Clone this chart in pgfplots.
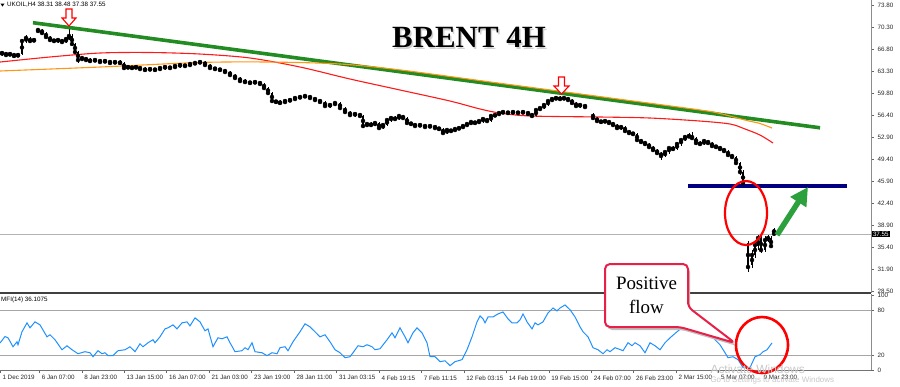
\documentclass[border=0pt]{standalone}
\usepackage{fontspec}
\setmainfont{Liberation Serif}
\setsansfont{Liberation Sans}
\usepackage{pgfplots}
\usepackage{pgfplotstable}
\pgfplotsset{compat=1.18}
\usetikzlibrary{arrows.meta}

\definecolor{trendgreen}{RGB}{34,139,34}
\definecolor{arrowgreen}{RGB}{44,160,60}
\definecolor{maRed}{RGB}{255,25,25}
\definecolor{maOrange}{RGB}{255,150,20}
\definecolor{mfiBlue}{RGB}{30,144,255}
\definecolor{levelNavy}{RGB}{0,0,128}
\definecolor{callRed}{RGB}{232,32,72}

\pgfplotstableread{
x o h l c
2 66.04 66.52 65.73 66.20
6 66.20 66.36 65.57 65.88
10 65.88 66.36 65.73 66.04
14 66.04 66.20 65.41 65.73
18 65.73 66.20 65.57 65.88
22 66.04 68.42 65.88 68.10
26 68.10 69.05 67.79 68.58
30 68.42 68.74 67.79 68.10
34 68.10 68.58 67.94 68.26
38 69.53 70.16 69.37 69.85
42 69.85 70.00 69.05 69.37
46 69.37 69.53 68.42 68.74
50 68.74 68.89 67.94 68.26
54 68.26 68.42 67.79 68.10
58 68.10 68.42 67.79 68.26
62 68.26 68.42 67.63 67.94
66 67.94 68.58 67.79 68.42
69 68.42 70.32 68.26 68.89
72 68.89 69.21 67.31 67.63
75 67.63 67.79 66.04 66.36
78 66.36 66.52 64.62 65.09
82 65.09 65.73 64.93 65.41
86 65.41 65.57 64.77 65.09
90 65.09 65.41 64.62 64.93
95 64.93 65.25 64.77 65.09
100 65.09 65.25 64.62 64.77
105 64.77 65.09 64.62 64.93
110 64.93 65.09 64.46 64.62
115 64.62 64.93 64.46 64.77
120 64.77 65.09 64.46 64.62
124 64.62 64.77 63.51 63.82
128 63.82 64.14 63.66 63.98
132 63.98 64.14 63.51 63.82
136 63.82 64.14 63.66 63.98
140 63.98 64.14 63.51 63.66
145 63.66 63.98 63.19 63.51
150 63.51 63.82 63.35 63.66
155 63.66 63.82 63.19 63.51
160 63.51 63.98 63.35 63.82
165 63.82 64.14 63.51 63.98
170 63.98 64.14 63.66 63.82
175 63.82 64.30 63.66 64.14
180 64.14 64.46 63.82 64.30
185 64.30 64.46 63.98 64.14
190 64.14 64.62 63.98 64.46
195 64.46 64.77 64.30 64.62
200 64.62 64.93 64.46 64.77
205 64.77 64.93 64.14 64.30
210 64.30 64.46 63.66 63.82
215 63.82 63.98 63.35 63.66
220 63.66 63.82 63.19 63.51
225 63.51 63.66 63.03 63.19
230 63.19 63.35 62.40 62.71
235 62.71 62.87 61.92 62.24
240 62.24 62.40 61.45 61.76
245 61.76 62.08 61.29 61.60
250 61.60 61.76 61.13 61.45
255 61.45 61.92 61.29 61.60
260 61.60 61.76 61.13 61.29
264 61.29 61.45 60.34 60.65
268 60.65 60.81 59.54 59.86
272 59.86 60.02 58.28 58.59
276 58.59 58.75 58.12 58.44
280 58.44 58.75 58.12 58.28
285 58.28 58.91 58.12 58.59
290 58.59 59.07 58.44 58.75
295 58.75 59.39 58.75 59.07
300 59.07 59.54 58.91 59.23
305 59.23 59.54 59.07 59.39
310 59.39 59.54 58.91 59.07
315 59.07 59.23 58.44 58.75
320 58.75 58.91 58.28 58.44
325 58.44 58.59 57.64 57.80
330 57.80 58.28 57.48 57.96
335 57.96 58.44 57.80 58.28
340 58.28 58.44 57.17 57.48
345 57.48 57.64 56.53 56.85
350 56.85 57.01 56.06 56.37
355 56.37 56.69 56.06 56.53
360 56.53 56.69 55.90 56.22
363 56.22 56.37 54.31 54.63
367 54.63 55.11 54.47 54.95
371 54.95 55.27 54.47 54.79
375 54.79 55.42 54.63 55.11
379 55.11 55.27 54.00 54.31
383 54.31 54.95 54.16 54.79
387 54.79 55.90 54.63 55.58
391 55.58 56.22 55.27 55.90
395 55.90 56.22 55.42 55.74
399 55.74 56.53 55.58 56.22
403 56.22 56.37 55.58 55.90
407 55.90 56.06 54.95 55.11
411 55.11 55.27 54.63 54.95
415 54.95 55.11 54.47 54.63
420 54.63 54.95 54.47 54.79
425 54.79 54.95 54.31 54.47
430 54.47 54.79 54.31 54.63
435 54.63 54.79 54.16 54.31
439 54.31 54.47 54.00 54.16
443 54.16 54.31 53.36 53.52
447 53.52 54.16 53.36 54.00
451 54.00 54.16 53.68 53.84
455 53.84 54.31 53.68 54.16
459 54.16 54.47 54.00 54.31
463 54.31 54.79 54.16 54.63
467 54.63 55.11 54.47 54.95
471 54.95 55.42 54.79 55.27
475 55.27 55.42 54.95 55.11
479 55.11 55.58 54.95 55.42
483 55.42 55.90 55.11 55.74
487 55.74 55.90 55.27 55.42
491 55.42 56.37 55.27 56.22
495 56.22 56.69 56.06 56.37
499 56.37 56.85 56.22 56.69
503 56.69 57.01 56.53 56.85
508 56.85 57.01 56.53 56.69
513 56.69 57.01 56.53 56.85
518 56.85 57.01 56.53 56.69
523 56.69 57.01 56.53 56.85
528 56.85 57.01 56.37 56.53
532 56.53 56.69 56.06 56.22
536 56.22 57.33 56.06 57.17
540 57.17 57.64 57.01 57.48
544 57.48 58.12 57.33 57.96
548 57.96 58.75 57.80 58.59
552 58.59 59.23 58.44 58.91
556 58.91 59.39 58.75 59.07
560 59.07 59.39 58.75 58.91
564 58.91 59.39 58.75 59.07
568 59.07 59.23 58.59 58.75
572 58.75 58.91 58.12 58.28
576 58.28 58.44 57.64 57.80
580 57.80 58.12 57.48 57.96
585 57.96 58.12 57.48 57.64
593 56.53 56.69 55.58 55.90
597 55.90 56.06 55.11 55.42
601 55.42 55.58 54.95 55.27
605 55.27 55.58 55.11 55.42
609 55.42 55.58 54.95 55.11
613 55.11 55.27 54.47 54.79
617 54.79 54.95 54.00 54.31
621 54.31 54.63 54.00 54.47
625 54.47 54.63 53.52 53.84
629 53.84 54.00 53.20 53.52
633 53.52 53.68 53.05 53.36
637 53.36 53.52 52.10 52.41
641 52.41 52.57 51.78 52.10
645 52.10 52.25 51.46 51.78
649 51.78 51.94 50.99 51.30
653 51.30 51.46 50.51 50.83
657 50.83 50.99 50.04 50.35
661 50.35 50.51 49.24 49.88
665 49.88 50.67 49.72 50.51
669 50.51 51.30 50.19 51.14
673 51.14 51.46 50.67 50.99
677 50.99 52.10 50.83 51.78
681 51.78 52.57 51.46 52.41
685 52.41 53.20 52.25 52.89
689 52.89 53.52 52.73 53.05
692 53.05 53.68 52.41 52.73
696 52.73 52.89 51.62 51.94
700 51.94 52.25 51.46 51.78
704 51.78 52.57 51.62 52.25
708 52.25 52.41 51.78 51.94
712 51.94 52.10 51.14 51.46
716 51.46 51.62 50.99 51.30
720 51.30 51.46 50.67 50.99
724 50.99 51.14 50.35 50.67
728 50.67 50.83 49.72 50.04
732 50.04 50.19 49.40 49.72
736 49.72 49.88 48.45 48.77
740 48.77 48.93 46.87 47.34
743 47.34 47.66 45.28 45.60
748 36.09 36.41 31.49 32.29
752 32.60 34.98 32.13 34.19
755 34.19 36.56 33.71 35.77
758 35.61 37.36 34.98 36.88
761 36.88 37.20 34.50 34.98
765 34.98 37.20 34.66 36.56
768 36.56 37.36 36.25 36.88
771 36.88 37.20 35.30 35.61
774 38.31 38.48 37.38 37.55
}\candles

\pgfplotstableread{
x v
0 35.9
5 44.6
8 42.9
13 31.0
17 37.6
18 33.6
22 50.9
27 62.8
30 56.2
35 64.1
40 60.1
47 44.2
50 46.9
55 40.3
62 27.0
67 32.3
72 27.0
78 21.7
85 24.4
90 23.0
93 17.7
98 25.7
102 21.7
105 23.0
108 19.1
113 19.1
118 25.7
125 27.0
130 31.0
135 24.4
140 35.0
143 31.0
148 36.3
153 40.3
155 36.3
160 44.2
165 54.8
168 56.2
173 60.1
177 54.8
182 62.8
187 64.1
190 58.8
195 69.4
200 64.1
205 52.2
208 54.8
213 31.0
218 42.9
222 41.6
227 44.2
230 36.3
235 24.4
242 25.7
245 29.7
248 27.0
252 36.3
255 24.4
262 23.0
267 19.1
272 23.0
277 21.7
280 29.7
285 31.0
288 25.7
293 37.6
300 50.9
305 61.5
310 57.5
315 50.9
320 44.2
325 46.9
330 37.6
335 27.0
340 23.0
345 16.4
350 17.7
353 23.0
358 32.3
363 31.0
367 33.6
372 31.0
375 27.0
380 28.3
387 40.3
392 49.5
395 42.9
400 56.2
405 44.2
408 36.3
413 49.5
417 56.2
422 49.5
427 36.3
430 17.7
435 17.7
440 11.1
445 12.3
450 5.8
455 11.1
462 13.8
467 27.0
472 44.2
477 64.1
480 72.1
483 68.1
485 62.8
488 70.7
493 70.7
498 74.7
503 77.3
508 68.1
512 62.8
517 62.8
520 66.8
523 74.7
527 64.1
532 54.8
535 62.8
538 60.1
543 64.1
548 76.0
553 82.6
557 78.7
560 82.6
565 86.6
570 80.3
575 70.7
580 57.5
583 50.9
588 44.2
593 29.7
598 27.0
603 21.7
607 27.0
610 24.4
615 29.7
618 28.3
623 25.7
628 36.3
632 32.3
635 36.3
640 32.3
645 23.0
650 36.3
655 32.3
660 27.0
665 36.3
670 42.9
677 50.9
683 57.5
690 64.1
697 69.4
703 64.1
710 53.5
715 40.3
720 33.6
725 23.0
728 16.4
733 17.7
738 13.8
743 3.2
750 3.2
755 17.7
760 20.4
763 24.4
767 27.0
772 36.1
}\mfi

\begin{document}
\begin{tikzpicture}[x=1bp,y=1bp]
\useasboundingbox (0,0) rectangle (900,-386);
\clip (0,0) rectangle (900,-386);

% ---------------- price panel ----------------
\begin{axis}[
  at={(0bp,0bp)}, anchor=north west,
  scale only axis, width=871bp, height=293bp,
  xmin=0, xmax=871, ymin=28.17, ymax=74.6,
  axis x line*=bottom, axis y line*=right,
  axis line style={-},
  x axis line style={draw=black!75, line width=1.6bp, -},
  y axis line style={draw=black!45, line width=0.6bp, -},
  xtick=\empty,
  ytick={28.50,31.90,35.40,38.90,42.40,45.90,49.40,52.90,56.40,59.80,63.30,66.80,70.30,73.80},
  yticklabel style={font=\sffamily\fontsize{6.3}{7}\selectfont, text=black!85,
    /pgf/number format/.cd, fixed, fixed zerofill, precision=2, assume math mode=true},
  ytick style={draw=black!60, line width=0.5bp},
  tick align=outside, major tick length=3bp,
]
% current price line
\addplot[black!30, line width=0.5bp, forget plot] coordinates {(0,37.55) (871,37.55)};
% candle wicks
\addplot[only marks, mark=none, forget plot,
  error bars/.cd, y dir=both, y explicit, error mark=none,
  error bar style={black, line width=0.55bp}]
  table[x=x, y=c, y error plus expr=\thisrow{h}-\thisrow{c}, y error minus expr=\thisrow{c}-\thisrow{l}] {\candles};
% candle bodies
\addplot[only marks, mark=none, forget plot,
  error bars/.cd, y dir=both, y explicit, error mark=none,
  error bar style={black, line width=1.25bp}]
  table[x=x, y expr=(\thisrow{o}+\thisrow{c})/2, y error expr={max(abs(\thisrow{o}-\thisrow{c})/2,0.05)}] {\candles};
% red moving average
\addplot[maRed, line width=1.1bp, smooth, tension=0.5] coordinates {
(0,64.77) (50,65.57) (100,66.20) (150,66.28) (200,66.04) (250,65.41) (300,63.98)
(350,62.08) (400,60.34) (450,58.59) (480,57.33) (500,56.69) (530,56.22) (600,56.06)
(650,55.90) (700,55.42) (730,54.95) (745,54.16) (760,53.20) (773,51.94)};
% green trend line
\addplot[trendgreen, line width=3.6bp] coordinates {(33,71.00) (820,54.35)};
% orange moving average
\addplot[maOrange, line width=1.1bp, smooth, tension=0.5] coordinates {
(0,63.35) (100,63.98) (200,64.70) (270,64.77) (340,64.46) (400,63.52) (500,61.40)
(600,59.29) (700,57.17) (720,56.61) (747,55.50) (760,55.03) (772,54.31)};
% navy level
\addplot[levelNavy, line width=4.2bp] coordinates {(688,45.12) (847,45.12)};
\end{axis}

% ---------------- MFI panel ----------------
\begin{axis}[
  at={(0bp,-294bp)}, anchor=north west,
  scale only axis, width=871bp, height=76bp,
  xmin=0, xmax=871, ymin=0, ymax=101.2,
  axis x line*=bottom, axis y line*=right,
  axis line style={-},
  x axis line style={draw=black!55, line width=0.6bp, -},
  y axis line style={draw=black!45, line width=0.6bp, -},
  xtick={0,39.3,81.8,124.2,166.7,209.1,251.6,294.1,336.5,379.0,421.4,463.9,506.4,548.8,591.3,633.7,676.2,718.7,761.1},
  xticklabels={1 Dec 2019,6 Jan 07:00,8 Jan 23:00,13 Jan 15:00,16 Jan 07:00,21 Jan 03:00,23 Jan 19:00,28 Jan 11:00,31 Jan 03:15,4 Feb 19:15,7 Feb 11:15,12 Feb 03:15,14 Feb 19:00,19 Feb 15:00,24 Feb 07:00,26 Feb 23:00,2 Mar 15:00,5 Mar 07:00,9 Mar 23:00},
  xticklabel style={anchor=north west, xshift=-1bp, yshift=1bp, font=\sffamily\fontsize{6.3}{7}\selectfont, text=black!85},
  ytick={0,20,80,100},
  yticklabels={0,20,80,100},
  yticklabel style={font=\sffamily\fontsize{6.3}{7}\selectfont, text=black!85},
  tick style={draw=black!60, line width=0.5bp},
  tick align=outside, major tick length=3bp,
]
\addplot[black!35, line width=0.6bp, forget plot] coordinates {(0,20) (871,20)};
\addplot[black!35, line width=0.6bp, forget plot] coordinates {(0,80) (871,80)};
\addplot[mfiBlue, line width=1bp] table[x=x, y=v] {\mfi};
\end{axis}

% ---------------- annotations ----------------
% header
\fill[black] (0.5,-3.5) -- (4.5,-3.5) -- (2.5,-6.5) -- cycle;
\node[anchor=west, inner sep=0, font=\sffamily\fontsize{6.3}{7}\selectfont] at (7,-5) {UKOIL,H4 38.31 38.48 37.38 37.55};
\node[anchor=west, inner sep=0, font=\sffamily\fontsize{6.3}{7}\selectfont] at (1,-300) {MFI(14) 36.1075};
% last price box
\node[anchor=west, fill=black, text=white, inner sep=0.8bp, font=\sffamily\fontsize{6.3}{7}\selectfont] at (872,-234) {37.55};
% title with shadow
\node[font=\bfseries\fontsize{31}{31}\selectfont, text=black!30, opacity=0.6] at (470.5,-39) {BRENT 4H};
\node[font=\bfseries\fontsize{31}{31}\selectfont, text=black] at (469,-37) {BRENT 4H};
% red hollow arrows
\draw[red, line width=1.1bp, fill=white, line join=miter] (66,-9) -- (72,-9) -- (72,-18) -- (76,-18) -- (69,-26) -- (62,-18) -- (66,-18) -- cycle;
\draw[red, line width=1.1bp, fill=white, line join=miter] (558.5,-77) -- (564.5,-77) -- (564.5,-86) -- (569,-86) -- (561.5,-94) -- (554,-86) -- (558.5,-86) -- cycle;
% red ellipse
\draw[red, line width=2.2bp] (746,-213) ellipse [x radius=21, y radius=32];
% green arrow
\draw[arrowgreen, line width=5.5bp, -{Triangle[length=18bp, width=18bp]}] (777,-235) -- (808,-187);
% MFI circle
\draw[red, line width=2.6bp] (762,-345) ellipse [x radius=26, y radius=28];
% callout
\fill[black!25, rounded corners=5] (607,-267) -- (690,-267) -- (690,-310) -- (737,-346) -- (682,-330) -- (607,-330) -- cycle;
\draw[callRed, line width=2bp, fill=white, rounded corners=5] (605,-264) -- (688,-264) -- (688,-307) -- (735,-343) -- (680,-327) -- (605,-327) -- cycle;
\node[align=center, font=\fontsize{19}{24}\selectfont] at (646.5,-295) {Positive\\flow};
% watermark
\node[anchor=west, text=black!22, font=\sffamily\fontsize{12}{12}\selectfont] at (707,-369) {Activate Windows};
\node[anchor=west, text=black!22, font=\sffamily\fontsize{8}{9}\selectfont] at (707,-380.5) {Go to Settings to activate Windows};
\end{tikzpicture}
\end{document}
